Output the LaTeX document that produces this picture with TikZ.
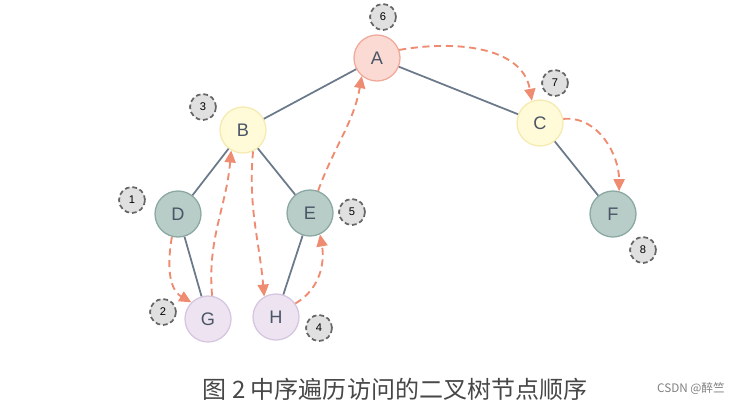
\documentclass[tikz,border=0pt]{standalone}
\usepackage{fontspec}
\setmainfont{Liberation Sans}
\newfontfamily\cjk{Noto Sans CJK SC}
\usetikzlibrary{arrows.meta}

\definecolor{edgegray}{HTML}{6B7A8A}
\definecolor{visit}{HTML}{EE8B70}
\definecolor{pinkfill}{HTML}{FBDAD4}
\definecolor{pinkline}{HTML}{F0AA9A}
\definecolor{yelfill}{HTML}{FFFAD8}
\definecolor{yelline}{HTML}{F5EBB0}
\definecolor{tealfill}{HTML}{B8CCC8}
\definecolor{tealline}{HTML}{8BA8A3}
\definecolor{lilfill}{HTML}{EDE3F1}
\definecolor{lilline}{HTML}{D6C6E0}
\definecolor{textdark}{HTML}{4A5566}

\begin{document}
\begin{tikzpicture}[
  x=0.03cm, y=-0.03cm,
  tnode/.style={circle, line width=1.1pt, minimum size=1.38cm, inner sep=0pt,
                font=\fontsize{15.5}{15.5}\selectfont, text=textdark},
  rootnode/.style={tnode, draw=pinkline, fill=pinkfill},
  midnode/.style={tnode, draw=yelline, fill=yelfill},
  inode/.style={tnode, draw=tealline, fill=tealfill},
  leafnode/.style={tnode, draw=lilline, fill=lilfill},
  badge/.style={circle, draw=black!60, dash pattern=on 4pt off 2.5pt,
                line width=1.5pt, fill=black!12, minimum size=0.78cm, inner sep=0pt,
                font=\fontsize{9.5}{9.5}\selectfont},
  tree/.style={draw=edgegray, line width=1.5pt},
  walk/.style={draw=visit, line width=1.6pt, dash pattern=on 6pt off 4pt,
               -{Triangle[length=3.6mm, width=3.3mm]}}
]
\useasboundingbox (0,0) rectangle (753,408);

% tree nodes
\node[rootnode] (A) at (377,58) {A};
\node[midnode] (B) at (243,130) {B};
\node[midnode] (C) at (540,123) {C};
\node[inode] (D) at (178,214) {D};
\node[inode] (E) at (310,213) {E};
\node[inode] (F) at (613,214) {F};
\node[leafnode] (G) at (208,319) {G};
\node[leafnode] (H) at (276,317) {H};

% visiting order
\node[badge] (n1) at (132,200) {1};
\node[badge] (n2) at (163,312) {2};
\node[badge] (n3) at (203,107) {3};
\node[badge] (n4) at (319,328) {4};
\node[badge] (n5) at (352,212) {5};
\node[badge] (n6) at (383,17) {6};
\node[badge] (n7) at (555,83) {7};
\node[badge] (n8) at (643,250) {8};

% edges
\draw[tree] (A)--(B);
\draw[tree] (A)--(C);
\draw[tree] (B)--(D);
\draw[tree] (B)--(E);
\draw[tree] (D)--(G);
\draw[tree] (E)--(H);
\draw[tree] (C)--(F);

% in-order walk
\draw[walk] (D.-105) to[out=-100,in=150] (G.135);
\draw[walk] (G.80) to[out=95,in=-95] (B.-120);
\draw[walk] (B.-65) to[out=-95,in=95] (H.120);
\draw[walk] (H.35) to[out=30,in=-80] (E.-65);
\draw[walk] (E.70) to[out=70,in=-100] (A.-130);
\draw[walk] (A.20) to[out=10,in=100] (C.110);
\draw[walk] (C.10) to[out=5,in=90] (F.75);

% caption
\node[font=\cjk\fontsize{20.5}{20.5}\selectfont, text=black!72] (cap) at (395,389) {图 2 中序遍历访问的二叉树节点顺序};
\node[font=\cjk\fontsize{10}{10}\selectfont, text=black!50] (src) at (691,389) {CSDN @醉竺};
\end{tikzpicture}
\end{document}
